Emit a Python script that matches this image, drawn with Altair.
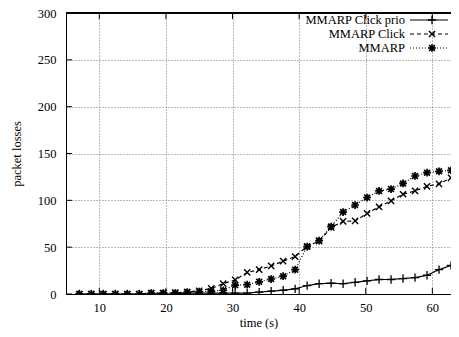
import altair as alt
import pandas as pd

# ---- data ----
time_s = [7.0, 8.8, 10.6, 12.4, 14.2, 16.0, 17.8, 19.6, 21.4, 23.2, 25.0,
          26.8, 28.6, 30.4, 32.2, 34.0, 35.8, 37.6, 39.4, 41.2, 43.0, 44.8,
          46.6, 48.4, 50.2, 52.0, 53.8, 55.6, 57.4, 59.2, 61.0, 62.8, 64.6]
click_prio = [0, 0, 0, 0, 0, 0, 0, 0, 0, 1, 1, 1, 1, 1, 1, 2, 3, 4, 5.5, 9,
              11, 11.5, 11, 12.5, 14, 15.5, 15.5, 16.5, 17.5, 20, 26, 30.5, 37]
click = [0, 0, 0, 0, 0, 0, 1, 1, 1.5, 2, 3.5, 6, 11, 15, 23, 26, 30, 35, 40,
         51, 56.5, 71, 77.5, 78, 86, 93, 99.5, 106.5, 110, 115, 117.5, 124, 128]
mmarp = [0, 0, 0, 0, 0, 0, 1, 1, 1, 2, 2.5, 3, 4, 9.5, 10, 13, 16, 19, 26,
         50.5, 57, 72, 87.5, 95, 103, 110, 112, 118, 126, 129.5, 131, 132, 133]

series_names = ["MMARP Click prio", "MMARP Click", "MMARP"]
series_values = [click_prio, click, mmarp]

x_ticks = [10, 20, 30, 40, 50, 60]
y_ticks = [0, 50, 100, 150, 200, 250, 300]
x_domain = [5, 62.8]
y_domain = [0, 300]

# ---- styles ----
PLUS = "M-1,0L1,0M0,-1L0,1"
CROSS = "M-0.8,-0.8L0.8,0.8M-0.8,0.8L0.8,-0.8"
STAR = "M-1,0L1,0M0,-1L0,1M-0.75,-0.75L0.75,0.75M-0.75,0.75L0.75,-0.75"
shapes = [PLUS, CROSS, STAR]
dashes = [[1, 0], [4, 3], [1, 2]]
marker_w = [1.3, 1.4, 1.7]
marker_size = [70, 60, 60]
FONT = "Liberation Serif"
FS = 12.5

xs = alt.Scale(domain=x_domain, nice=False, zero=False)
ys = alt.Scale(domain=y_domain, nice=False)

x_axis = alt.Axis(values=x_ticks, grid=True, ticks=False, domain=True,
                  title="time (s)", labelPadding=7, titlePadding=3)
y_axis = alt.Axis(values=y_ticks, grid=True, ticks=False, domain=True,
                  title="packet losses", labelPadding=10, titlePadding=14)


def X(field):
    return alt.X(field, scale=xs, axis=x_axis)


def Y(field):
    return alt.Y(field, scale=ys, axis=y_axis)


layers = []
for i, (name, vals) in enumerate(zip(series_names, series_values)):
    df = pd.DataFrame({"t": time_s, "v": vals, "s": name})
    base = alt.Chart(df).encode(x=X("t:Q"), y=Y("v:Q"))
    line = base.mark_line(color="black", strokeWidth=1.2,
                          strokeDash=dashes[i], clip=True)
    pts = base.mark_point(shape=shapes[i], size=marker_size[i], filled=False,
                          color="black", strokeWidth=marker_w[i], opacity=1,
                          clip=True)
    layers += [line, pts]

# inward ticks (gnuplot style) and top border
xt = pd.DataFrame({"t": x_ticks})
yt = pd.DataFrame({"v": y_ticks})
tick_bottom = alt.Chart(xt).mark_rule(color="black").encode(
    x=X("t:Q"), y=alt.datum(0), y2=alt.datum(6.5))
tick_top = alt.Chart(xt).mark_rule(color="black").encode(
    x=X("t:Q"), y=alt.datum(300), y2=alt.datum(293.5))
tick_left = alt.Chart(yt).mark_rule(color="black").encode(
    y=Y("v:Q"), x=alt.datum(x_domain[0]), x2=alt.datum(x_domain[0] + 0.9))
top_border = alt.Chart(xt).mark_rule(color="black").encode(
    x=alt.datum(x_domain[0]), x2=alt.datum(x_domain[1]),
    y=alt.datum(300))
layers += [tick_bottom, tick_top, tick_left, top_border]

# manual gnuplot-style key
row_y = [7, 21, 35]
for i, name in enumerate(series_names):
    one = pd.DataFrame({"s": [name]})
    txt = alt.Chart(one).mark_text(align="right", baseline="middle",
                                   font=FONT, fontSize=FS, color="black").encode(
        text="s:N", x=alt.value(339), y=alt.value(row_y[i]))
    seg = alt.Chart(one).mark_rule(color="black", strokeWidth=1.2,
                                   strokeDash=dashes[i]).encode(
        x=alt.value(344), x2=alt.value(382), y=alt.value(row_y[i]))
    mk = alt.Chart(one).mark_point(shape=shapes[i], size=marker_size[i],
                                   filled=False, color="black",
                                   strokeWidth=marker_w[i], opacity=1).encode(
        x=alt.value(366), y=alt.value(row_y[i]))
    layers += [txt, seg, mk]

chart = alt.layer(*layers).properties(
    width=385, height=281,
    padding={"left": 58, "top": 5, "right": 0, "bottom": 35},
    autosize=alt.AutoSizeParams(type="none"),
).configure_view(stroke=None).configure_axis(
    labelFont=FONT, titleFont=FONT, labelFontSize=FS, titleFontSize=FS,
    titleFontWeight="normal", labelColor="black", titleColor="black",
    domainColor="black", domainWidth=1,
    gridColor="#777777", gridDash=[1, 2], gridWidth=1,
)

chart.save("out.html", embed_options={"renderer": "svg", "actions": False})
